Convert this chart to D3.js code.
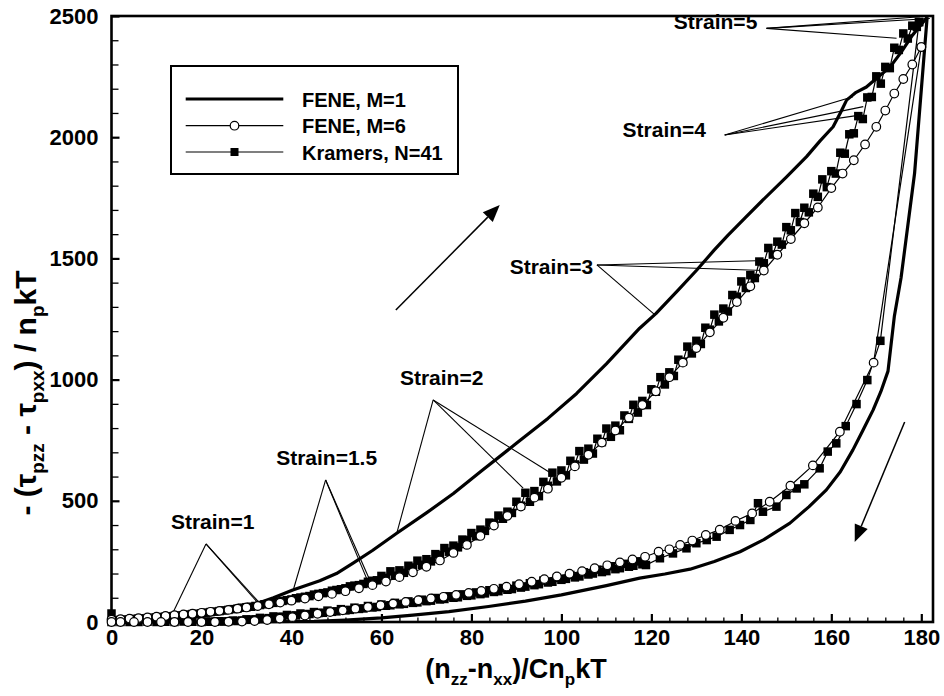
<!DOCTYPE html>
<html><head><meta charset="utf-8">
<script src="https://cdn.jsdelivr.net/npm/d3@7"></script>
<style>
html,body{margin:0;padding:0;background:#fff;}
svg text{font-family:"Liberation Sans",Arial,Helvetica,sans-serif;font-weight:bold;fill:#000;}
</style></head>
<body>
<svg id="chart" width="944" height="696"></svg>
<script>
// ---------------- DATA ----------------
const xTicks = [0,20,40,60,80,100,120,140,160,180];
const yTicks = [0,500,1000,1500,2000,2500];
const seriesNames = ["FENE, M=1","FENE, M=6","Kramers, N=41"];

// FENE M=1 (thick line) — loading (start-up) branch
const feneM1Loading = [[0,0],[10,8],[20,25],[26,40],[30,58],[33,80],[36,100],[40.3,132],[46.3,170],[50,200],[53.7,243],[58,295],[63.4,366],[70,450],[76,530],[82,620],[90,737],[97,840],[103.4,943],[110,1065],[117.4,1212],[121,1272],[126,1370],[130,1450],[134,1535],[137,1595],[141,1670],[144.8,1741],[150,1835],[154.5,1920],[157.5,1985],[160.4,2043],[162,2100],[163.4,2153],[165.5,2185],[167.8,2207],[170,2242],[173,2288],[175.5,2350],[178,2420],[180,2465],[181.3,2495]];
// FENE M=1 — relaxation branch
const feneM1Relax = [[181.3,2495],[178.5,1850],[175.5,1420],[174,1260],[172.6,1035],[171,950],[169.3,875],[167,790],[164.8,710],[162,620],[158.9,545],[155,475],[150.8,408],[145,340],[139.7,290],[134,250],[128.6,218],[123,198],[117.4,181],[110,150],[100,112],[92,86],[83.8,64],[75,43],[67,28],[60,17],[52,8],[45,3],[35,1],[20,0],[0,0]];

// FENE M=6 (open circles)
const feneM6Loading = [[0,10],[2,12],[4,14],[6,16],[8,19],[10,22],[12,25],[14,28],[16,31],[18,34],[20,38],[22,42],[24,46],[26,50],[28,55],[30,60],[32.5,66],[35,73],[37.5,80],[40,88],[43,97],[46,106],[49,116],[52,127],[55,139],[58,152],[61,167],[64,185],[67,205],[70,228],[73,254],[76,285],[79,318],[82,355],[85,398],[88,438],[91,476],[94,513],[97,550],[100,595],[103,642],[106,690],[109,740],[112,790],[115,843],[118,895],[121,952],[124,1010],[127,1070],[130,1130],[133,1195],[136,1255],[139,1320],[142,1385],[145,1450],[148,1515],[151,1580],[154,1645],[157,1710],[160,1790],[162.5,1850],[165,1905],[167.5,1970],[170,2043],[172,2110],[174,2180],[176,2240],[178,2300],[180,2372]];
const feneM6Relax = [[180,2372],[169.4,1070],[161.9,785],[155.9,646],[150.9,562],[146.3,496],[142.4,448],[138.7,417],[135.2,381],[132.1,359],[129.1,336],[126.4,318],[124,300],[121.6,290],[118.6,269],[115.8,258],[113,246],[110.2,234],[107.4,222],[104.6,210],[101.8,199],[99,188],[96.2,177],[93.4,166],[90.6,156],[87.8,146],[85,137],[82.2,128],[79.4,120],[76.6,112],[73.8,104],[71,97],[68.2,90],[65.4,83],[62.6,76],[59.8,69],[57,62],[54.2,55],[51.4,48],[48.6,41],[45.8,34],[43,27],[40.2,20],[37.4,14],[34.6,8],[31.8,4],[29,2],[26,1],[23,0],[20,0],[17,0],[14,0],[11,0],[8,0],[5,0],[2,0],[0,0]];

// Kramers N=41 (filled squares)
const kramersLoading = [[0,35],[1,7],[2,9],[3,10],[4,11],[5,13],[6,14],[7,15],[8,16],[9,18],[10,19],[11,21],[12,22],[13,24],[14,25],[15,27],[16,28],[17,31],[18,33],[19,34],[20,36],[21,39],[22,41],[23,43],[24,45],[25,48],[26,50],[27,53],[28,55],[29,59],[30,61],[31,63],[32,66],[33,70],[34,73],[35,75],[36,79],[37,84],[38,87],[39,90],[40,93],[41,98],[42,101],[43,104],[44,107],[45,113],[46,116],[47,119],[48,122],[49,129],[50,132],[51,135],[52,139],[53,147],[54,150],[55,152],[56,157],[57,166],[58,170],[59,172],[60,190],[61,182],[62,209],[63,191],[64,213],[65,203],[66,232],[67,225],[68,253],[69,236],[70,259],[71,250],[72,280],[73,275],[74,305],[75,290],[76,315],[77,308],[78,340],[79,337],[80,367],[81,354],[82,381],[83,376],[84,410],[85,407],[86,439],[87,426],[88,455],[89,450],[90,496],[91,480],[92,533],[93,496],[94,540],[95,519],[96,578],[97,562],[98,616],[99,580],[100,625],[101,605],[102,665],[103,650],[104,705],[105,670],[106,715],[107,695],[108,756],[109,742],[110,798],[111,764],[112,810],[113,791],[114,852],[115,838],[116,896],[117,864],[118,912],[119,895],[120,960],[121,950],[122,1010],[123,980],[124,1030],[125,1015],[126,1082],[127,1074],[128,1136],[129,1108],[130,1160],[131,1147],[132,1214],[133,1206],[134,1268],[135,1240],[136,1293],[137,1281],[138,1349],[139,1342],[140,1405],[141,1378],[142,1431],[143,1419],[144,1487],[145,1480],[146,1543],[147,1516],[148,1569],[149,1557],[150,1629],[151,1616],[152,1687],[153,1650],[154,1709],[155,1690],[156,1767],[157,1754],[158,1826],[159,1794],[160,1860],[161,1850],[162,1936],[163,1932],[164,2012],[165,2016],[166,2087],[167,2075],[168,2164],[169,2166],[170,2251],[171,2221],[172,2290],[173,2285],[174,2369],[175,2360],[176,2428],[177,2407],[178,2460],[179,2455],[179.5,2475]];
const kramersRelax = [[179.5,2475],[170.9,1160],[168,998],[165.6,899],[163.2,808],[161.1,737],[159.2,703],[157.4,634],[154,568],[152.3,551],[150,524],[147.8,476],[144.8,455],[143.7,490],[142,421],[139.7,400],[137.4,380],[134.5,352],[132.3,338],[130,325],[127.8,304],[124.8,283],[121.9,263],[118.8,235],[118,238],[117,250],[116,232],[115,228],[114,240],[113,222],[112,218],[111,230],[110,210],[109,206],[108,216],[107,200],[106,196],[105,205],[104,188],[103,184],[102,194],[101,178],[100,174],[99,182],[98,166],[97,163],[96,171],[95,156],[94,152],[93,160],[92,146],[91,142],[90,150],[89,136],[88,133],[87,140],[86,127],[85,124],[84,131],[83,118],[82,115],[81,122],[80,110],[79,108],[78,114],[77,102],[76,100],[75,106],[74,95],[73,93],[72,99],[71,88],[70,86],[69,92],[68,81],[67,79],[66,85],[65,75],[64,73],[63,79],[62,69],[61,67],[60,72],[59,62],[58,60],[57,66],[56,56],[55,54],[54,59],[53,50],[52,48],[51,53],[50,44],[49,42],[48,47],[47,38],[46,37],[45,41],[44,33],[43,31],[42,35],[41,27],[40,26],[39,29],[38,22],[37,20],[36,23],[35,16],[34,14],[33,17],[32,11],[31,9],[30,11],[29,6],[28,4],[27,6],[26,3],[25,2],[24,3],[23,1],[22,1],[21,2],[20,0],[18,1],[16,2],[14,0],[12,1],[10,0],[8,1],[6,0],[4,0],[2,0],[0,0]];

// Strain annotations: label, label anchor (data), pointer origin (data), pointer targets (data)
const strainLabels = ["Strain=1","Strain=1.5","Strain=2","Strain=3","Strain=4","Strain=5"];
const strainLabelAt = [[13.2,383],[36.6,648],[64.1,979],[88.5,1434],[113.6,1999],[125,2445]];
const strainOrigin = [[21,322],[47.6,586],[71.5,916],[107.9,1473],[136.3,2009],[145.6,2449]];
const strainTargets = [
  [[13.6,36],[32.3,84],[33,77]],
  [[40.4,132],[56.7,180],[57.4,173]],
  [[63.4,366],[91.5,552],[97.8,613]],
  [[120.8,1267],[143.2,1490],[145.5,1450]],
  [[164.8,2167],[167.1,2126],[166.7,2092]],
  [[179.7,2497],[181.9,2490],[174.5,2408]]
];
// direction arrows (data coords): start -> end
const arrows = [[[63.2,1287],[86.3,1720]],[[176.3,825],[165.2,330]]];

// ---------------- CHART ----------------
const svg = d3.select("#chart");
const x = d3.scaleLinear().domain([0,182.6]).range([111.5,933]);
const y = d3.scaleLinear().domain([0,2500]).range([622,16]);

const xMinor = d3.range(0,182,4).filter(v=>v%20!==0);
const yMinor = d3.range(0,2500,100).filter(v=>v%500!==0);

const gx = svg.append("g").attr("transform","translate(0,622)")
  .call(d3.axisBottom(x).tickValues(xTicks).tickSize(-8).tickPadding(7).tickFormat(d3.format("d")));
gx.select(".domain").remove();
gx.selectAll(".tick line").attr("stroke","#000").attr("stroke-width",2.2);
gx.selectAll(".tick text").style("font-size","22px");
const gxm = svg.append("g").attr("transform","translate(0,622)")
  .call(d3.axisBottom(x).tickValues(xMinor).tickSize(-4.5).tickFormat(""));
gxm.select(".domain").remove();
gxm.selectAll(".tick line").attr("stroke","#000").attr("stroke-width",1.3);

const gy = svg.append("g").attr("transform","translate(111.5,0)")
  .call(d3.axisLeft(y).tickValues(yTicks).tickSize(-8).tickPadding(13).tickFormat(d3.format("d")));
gy.select(".domain").remove();
gy.selectAll(".tick line").attr("stroke","#000").attr("stroke-width",2.2);
gy.selectAll(".tick text").style("font-size","22px");
const gym = svg.append("g").attr("transform","translate(111.5,0)")
  .call(d3.axisLeft(y).tickValues(yMinor).tickSize(-7).tickFormat(""));
gym.select(".domain").remove();
gym.selectAll(".tick line").attr("stroke","#000").attr("stroke-width",1.3);

svg.append("rect").attr("x",x(0)).attr("y",y(2500))
  .attr("width",x(182.6)-x(0)).attr("height",y(0)-y(2500))
  .attr("fill","none").attr("stroke","#000").attr("stroke-width",2.6);

const line = d3.line().x(d=>x(d[0])).y(d=>y(d[1]));

const ann = svg.append("g");
strainLabels.forEach((lab,i)=>{
  const o = strainOrigin[i];
  strainTargets[i].forEach(t=>{
    ann.append("line").attr("x1",x(o[0])).attr("y1",y(o[1])).attr("x2",x(t[0])).attr("y2",y(t[1]))
      .attr("stroke","#000").attr("stroke-width",1.1);
  });
  ann.append("text").attr("x",x(strainLabelAt[i][0])).attr("y",y(strainLabelAt[i][1]))
    .style("font-size","21px").text(lab);
});

[feneM1Loading, feneM1Relax].forEach(d=>{
  svg.append("path").datum(d).attr("d",line).attr("fill","none").attr("stroke","#000")
    .attr("stroke-width",3.2).attr("stroke-linejoin","round");
});
[kramersLoading, kramersRelax, feneM6Loading, feneM6Relax].forEach(d=>{
  svg.append("path").datum(d).attr("d",line).attr("fill","none").attr("stroke","#000").attr("stroke-width",1.2);
});
const sq = 8.5;
svg.append("g").selectAll("rect").data(kramersLoading.concat(kramersRelax)).join("rect")
  .attr("x",d=>x(d[0])-sq/2).attr("y",d=>y(d[1])-sq/2).attr("width",sq).attr("height",sq).attr("fill","#000");
svg.append("g").selectAll("circle").data(feneM6Loading.concat(feneM6Relax)).join("circle")
  .attr("cx",d=>x(d[0])).attr("cy",d=>y(d[1])).attr("r",4.3)
  .attr("fill","#fff").attr("stroke","#000").attr("stroke-width",1.2);

arrows.forEach(a=>{
  const x1=x(a[0][0]), y1=y(a[0][1]), x2=x(a[1][0]), y2=y(a[1][1]);
  const ang=Math.atan2(y2-y1,x2-x1), L=17, W=7;
  const bx=x2-L*Math.cos(ang), by=y2-L*Math.sin(ang);
  svg.append("line").attr("x1",x1).attr("y1",y1).attr("x2",bx).attr("y2",by).attr("stroke","#000").attr("stroke-width",1.5);
  svg.append("path").attr("d",`M${x2},${y2}L${bx+W*Math.sin(ang)},${by-W*Math.cos(ang)}L${bx-W*Math.sin(ang)},${by+W*Math.cos(ang)}Z`).attr("fill","#000");
});

const lg = svg.append("g");
lg.append("rect").attr("x",171).attr("y",66).attr("width",287).attr("height",108)
  .attr("fill","#fff").attr("stroke","#000").attr("stroke-width",2);
const rowsY = [99,125.7,152];
seriesNames.forEach((nm,i)=>{
  lg.append("line").attr("x1",185.7).attr("x2",283.3).attr("y1",rowsY[i]).attr("y2",rowsY[i])
    .attr("stroke","#000").attr("stroke-width",i===0?3.2:1.2);
  if(i===1) lg.append("circle").attr("cx",234.5).attr("cy",rowsY[i]).attr("r",4.3).attr("fill","#fff").attr("stroke","#000").attr("stroke-width",1.2);
  if(i===2) lg.append("rect").attr("x",234.5-4).attr("y",rowsY[i]-4).attr("width",8).attr("height",8).attr("fill","#000");
  lg.append("text").attr("x",302).attr("y",rowsY[i]+7.5).style("font-size","20px").text(nm);
});

const xt = svg.append("text").attr("x",516).attr("y",678).attr("text-anchor","middle").style("font-size","27px");
xt.append("tspan").text("(n");
xt.append("tspan").attr("dy",7).style("font-size","17px").text("zz");
xt.append("tspan").attr("dy",-7).text("-n");
xt.append("tspan").attr("dy",7).style("font-size","17px").text("xx");
xt.append("tspan").attr("dy",-7).text(")/Cn");
xt.append("tspan").attr("dy",7).style("font-size","17px").text("p");
xt.append("tspan").attr("dy",-7).text("kT");

const yt = svg.append("text").attr("transform","translate(36,393) rotate(-90)").attr("text-anchor","middle").style("font-size","30px");
yt.append("tspan").text("- (\u03C4");
yt.append("tspan").attr("dy",8).style("font-size","19px").text("pzz");
yt.append("tspan").attr("dy",-8).text(" - \u03C4");
yt.append("tspan").attr("dy",8).style("font-size","19px").text("pxx");
yt.append("tspan").attr("dy",-8).text(") / n");
yt.append("tspan").attr("dy",8).style("font-size","19px").text("p");
yt.append("tspan").attr("dy",-8).text("kT");
</script>
</body></html>
